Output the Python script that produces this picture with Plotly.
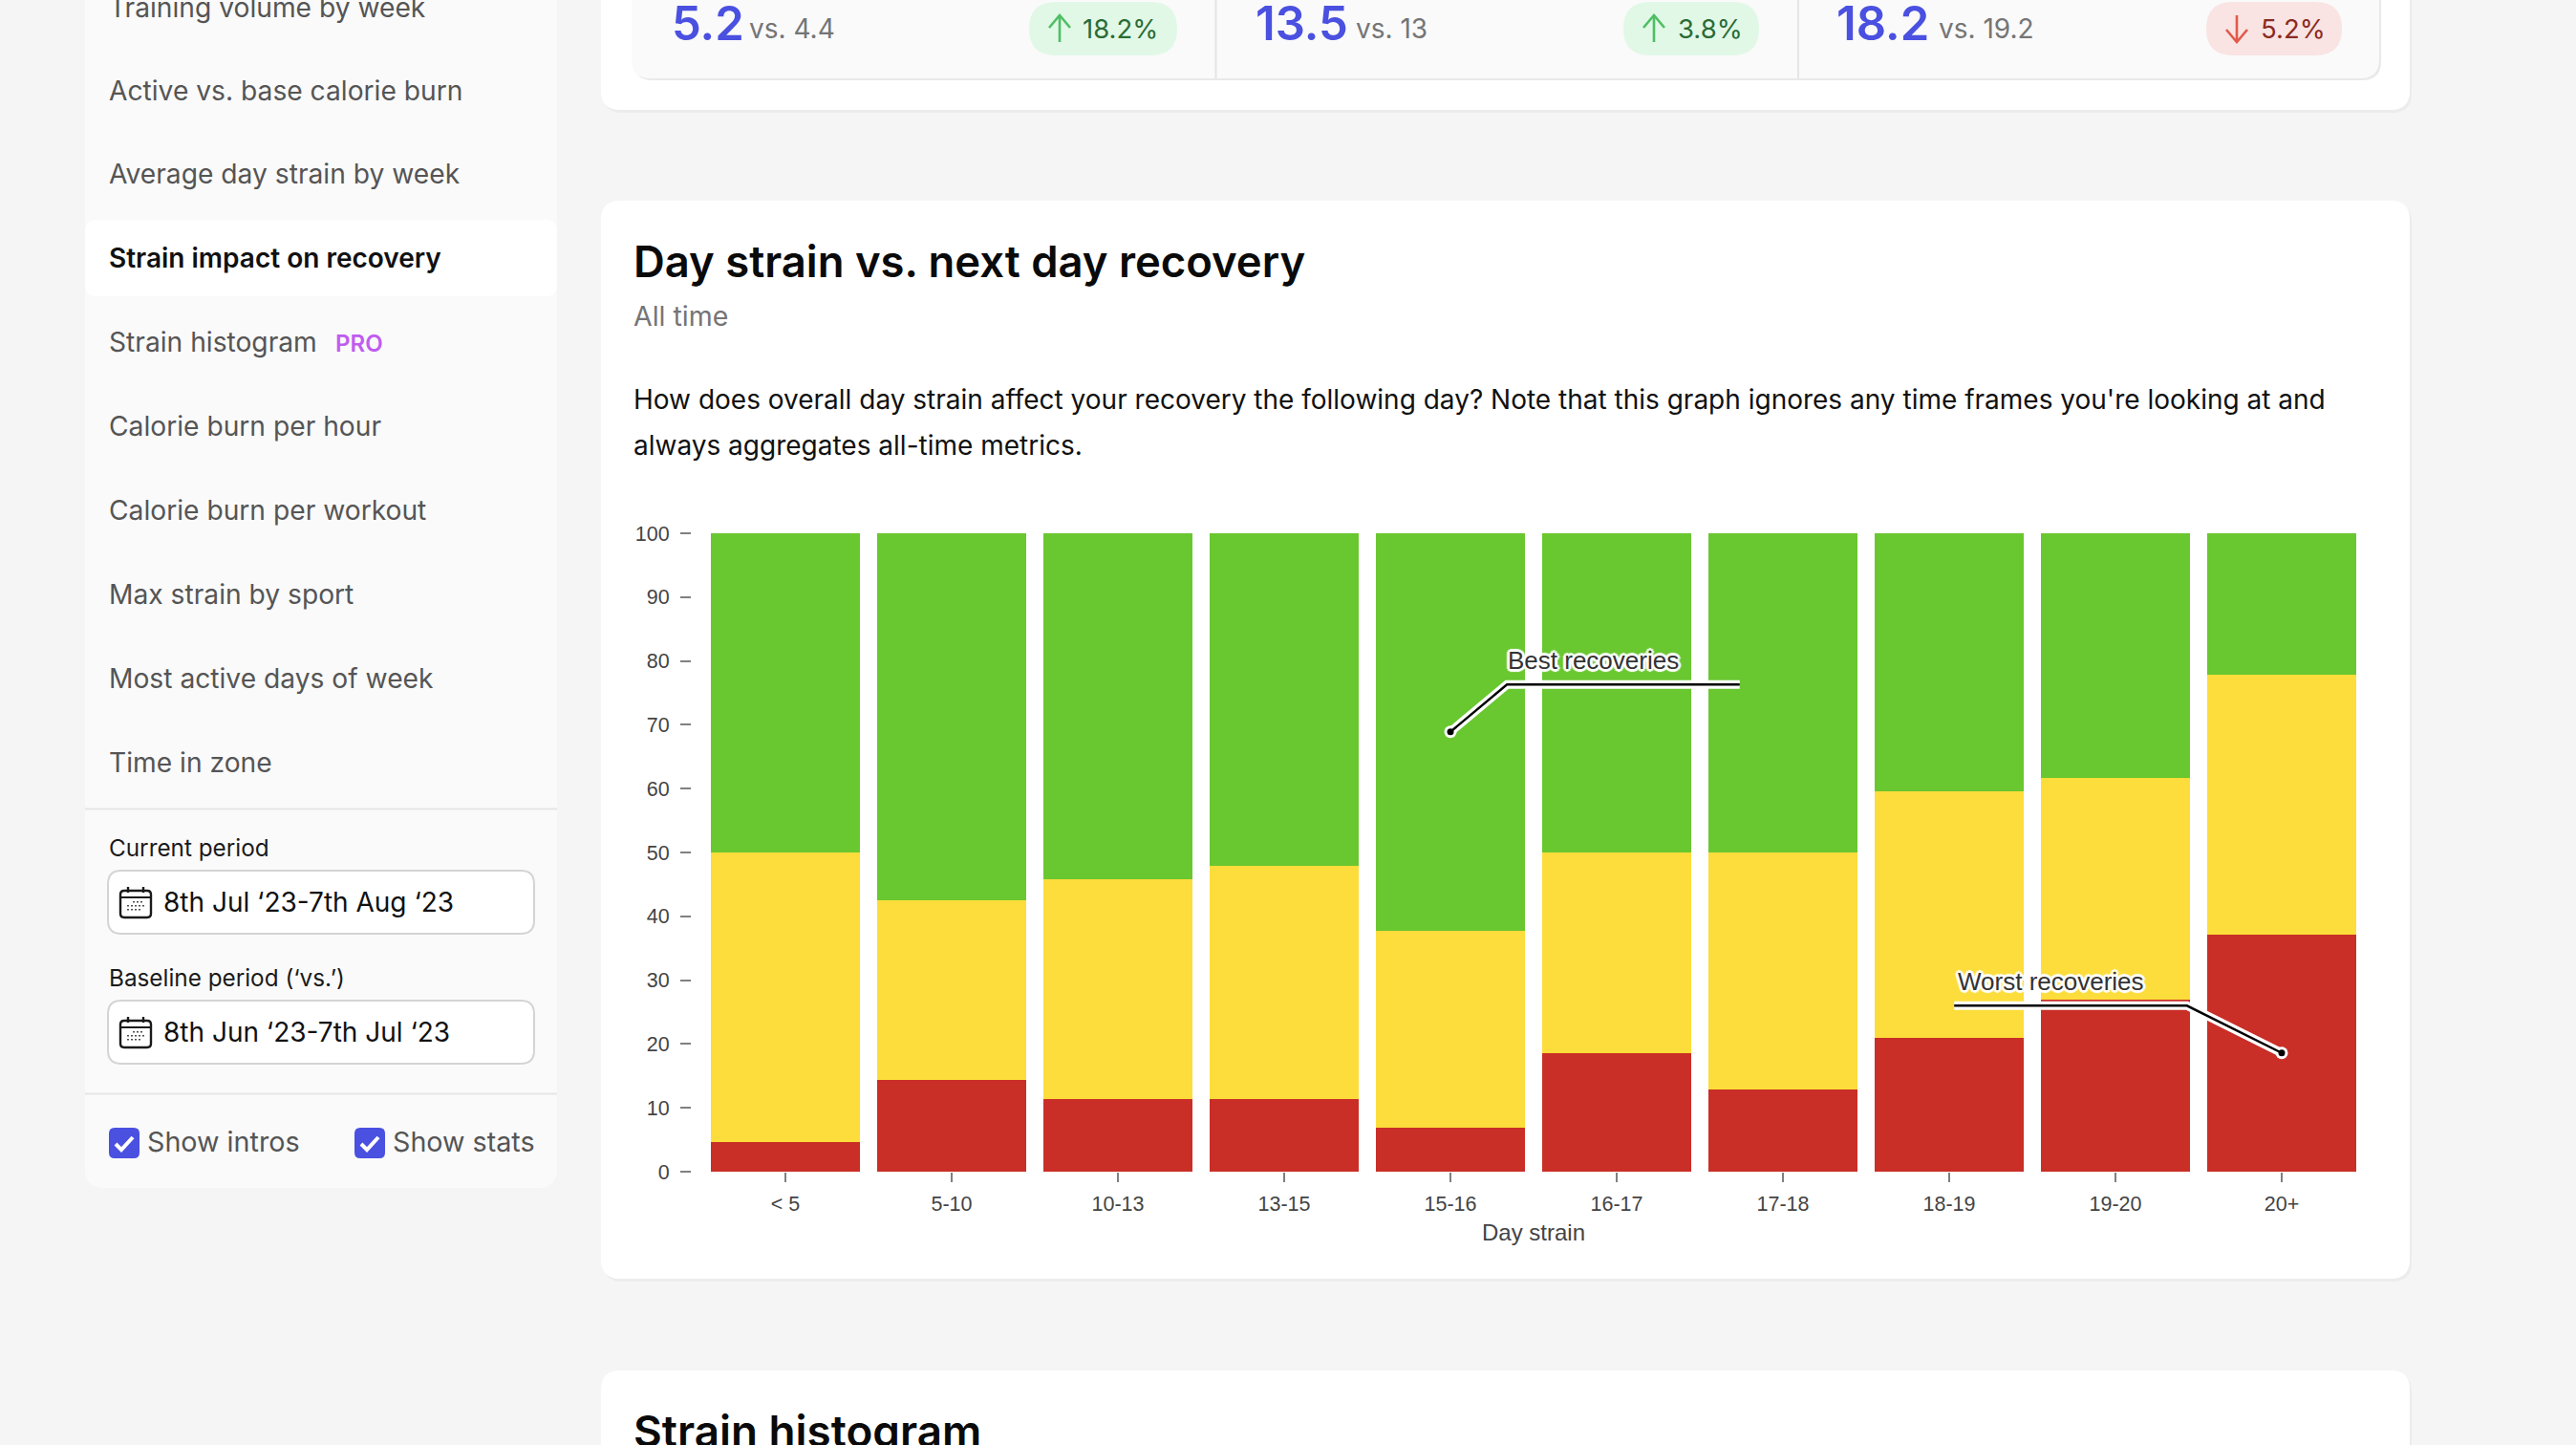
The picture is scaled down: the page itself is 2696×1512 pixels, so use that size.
import plotly.graph_objects as go

W, H = 2696, 1512

# ---- chart data -------------------------------------------------------
strain_bins = ["< 5", "5-10", "10-13", "13-15", "15-16", "16-17", "17-18", "18-19", "19-20", "20+"]
worst_pct = [4.6, 14.4, 11.4, 11.4, 6.9, 18.6, 12.9, 21.0, 26.9, 37.1]
middle_pct = [45.4, 28.1, 34.4, 36.5, 30.8, 31.4, 37.1, 38.6, 34.8, 40.7]
best_pct = [50.0, 57.5, 54.2, 52.1, 62.3, 50.0, 50.0, 40.4, 38.3, 22.2]
y_ticks = [0, 10, 20, 30, 40, 50, 60, 70, 80, 90, 100]

best_callout_x = [4, 4.34, 5.74]
best_callout_y = [68.9, 76.3, 76.3]
worst_callout_x = [9, 8.43, 7.03]
worst_callout_y = [18.6, 26.0, 26.0]

sidebar_items = ["Training volume by week", "Active vs. base calorie burn", "Average day strain by week",
                 "Strain impact on recovery", "Strain histogram", "Calorie burn per hour",
                 "Calorie burn per workout", "Max strain by sport", "Most active days of week", "Time in zone"]

stat_main = ["5.2", "13.5", "18.2"]
stat_vs = ["vs. 4.4", "vs. 13", "vs. 19.2"]
stat_delta = ["18.2%", "3.8%", "5.2%"]

# ---- page helpers ------------------------------------------------------
INTER = "Inter, sans-serif"
HELV = "Liberation Sans, Arial, sans-serif"
BLUE = "#4a50e0"


def px(v):
    return v / W


def py(v):
    return 1 - v / H


shapes, annos = [], []


def rrect(x0, y0, x1, y1, r, fill, line=None, lw=0):
    path = (f"M{px(x0 + r)},{py(y0)} L{px(x1 - r)},{py(y0)} Q{px(x1)},{py(y0)} {px(x1)},{py(y0 + r)} "
            f"L{px(x1)},{py(y1 - r)} Q{px(x1)},{py(y1)} {px(x1 - r)},{py(y1)} "
            f"L{px(x0 + r)},{py(y1)} Q{px(x0)},{py(y1)} {px(x0)},{py(y1 - r)} "
            f"L{px(x0)},{py(y0 + r)} Q{px(x0)},{py(y0)} {px(x0 + r)},{py(y0)} Z")
    shapes.append(dict(type="path", path=path, xref="paper", yref="paper", fillcolor=fill,
                       line=dict(color=line or fill, width=lw), layer="below"))


def hline(x0, x1, y, color="#e5e5e5", w=2):
    shapes.append(dict(type="line", xref="paper", yref="paper", x0=px(x0), x1=px(x1), y0=py(y), y1=py(y),
                       line=dict(color=color, width=w), layer="below"))


def vline(x, y0, y1, color="#e5e5e5", w=2):
    shapes.append(dict(type="line", xref="paper", yref="paper", x0=px(x), x1=px(x), y0=py(y0), y1=py(y1),
                       line=dict(color=color, width=w), layer="below"))


def poly(pts, color, w, fill=None, close=False):
    d = "M" + " L".join(f"{px(a)},{py(b)}" for a, b in pts) + (" Z" if close else "")
    shapes.append(dict(type="path", path=d, xref="paper", yref="paper", fillcolor=fill or "rgba(0,0,0,0)",
                       line=dict(color=color, width=w), layer="below"))


def text(s, x, y, size, color, weight=400, family=INTER, anchor="left", shadow=None):
    f = dict(family=family, size=size, color=color, weight=weight)
    if shadow:
        f["shadow"] = shadow
    annos.append(dict(text=s, x=px(x), y=py(y), xref="paper", yref="paper", xanchor=anchor, yanchor="middle",
                      showarrow=False, font=f, borderpad=0, borderwidth=0, align="left"))


def calendar(x, y):
    rrect(x, y + 4, x + 32, y + 32, 4, "#ffffff", "#1a1a1a", 2.4)
    hline(x, x + 32, y + 11, "#1a1a1a", 2)
    vline(x + 8, y, y + 6, "#1a1a1a", 2.4)
    vline(x + 24, y, y + 6, "#1a1a1a", 2.4)
    for row, xs in enumerate([(14, 18, 22), (8, 12, 16, 20, 24), (8, 12, 16, 20)]):
        for dx in xs:
            rrect(x + dx - 0.8, y + 15 + row * 4, x + dx + 0.8, y + 16.6 + row * 4, 0.3, "#1a1a1a")


def checkbox(x):
    rrect(x, 1180, x + 32, 1212, 6, BLUE)
    poly([(x + 7, 1197), (x + 13, 1203), (x + 25, 1190)], "#ffffff", 4)


# ---- cards -------------------------------------------------------------
rrect(631, -40, 2524, 118, 20, "#ececec")
rrect(629, -40, 2522, 115, 20, "#ffffff")
rrect(663, -40, 2492, 84, 20, "#e9e9e9")
rrect(661, -40, 2490, 82, 20, "#fafafa")
vline(1272.5, 0, 82)
vline(1882, 0, 82)
rrect(631, 213, 2524, 1341, 20, "#ececec")
rrect(629, 210, 2522, 1338, 20, "#ffffff")
rrect(631, 1437, 2524, 1560, 20, "#ececec")
rrect(629, 1434, 2522, 1560, 20, "#ffffff")

# ---- stat strip --------------------------------------------------------
pills = [(1077, 1232, "#e1f8e7"), (1699, 1841, "#e1f8e7"), (2309, 2451, "#f9e3e3")]
for a, b, c in pills:
    rrect(a, 2, b, 58, 28, c)
for ax_, up, c in [(1109, True, "#4fbf63"), (1731, True, "#4fbf63"), (2341, False, "#e05a4b")]:
    tip, tail = (16, 44) if up else (44, 16)
    wing = tip + 13 if up else tip - 13
    poly([(ax_, tail), (ax_, tip)], c, 2.6)
    poly([(ax_ - 11, wing), (ax_, tip), (ax_ + 11, wing)], c, 2.6)
for s, x in zip(stat_main, [703, 1314, 1922]):
    text(s, x, 25, 49, BLUE, 600)
for s, x in zip(stat_vs, [784, 1419, 2029]):
    text(s, x, 30, 28, "#757575")
for s, x, c in zip(stat_delta, [1133, 1756, 2366], ["#2a6b35", "#2a6b35", "#8a2a22"]):
    text(s, x, 30, 27.5, c)

# ---- sidebar -----------------------------------------------------------
rrect(89, -40, 583, 1243, 20, "#fafafa")
rrect(89, 230, 583, 310, 12, "#ffffff")
item_y = [8, 95, 182, 270, 358, 446, 534, 622, 710, 798]
for i, (s, y) in enumerate(zip(sidebar_items, item_y)):
    if i == 3:
        text(s, 114, y, 28, "#111111", 600)
    else:
        text(s, 114, y, 28.2, "#555555", 400)
text("PRO", 351, 359, 24, "#c05cf0", 600)
hline(89, 583, 846.5)
hline(89, 583, 1144.5)
text("Current period", 114, 887, 24.3, "#1a1a1a")
text("Baseline period (‘vs.’)", 114, 1023, 24.3, "#1a1a1a")
for top, s in [(911, "8th Jul ‘23-7th Aug ‘23"), (1047, "8th Jun ‘23-7th Jul ‘23")]:
    rrect(113, top, 559, top + 66, 14, "#ffffff", "#d4d4d4", 2)
    calendar(126, top + 17)
    text(s, 171, top + 33, 28, "#111111")
checkbox(114)
checkbox(371)
text("Show intros", 154, 1194, 28.7, "#555555")
text("Show stats", 411, 1194, 28.7, "#555555")

# ---- chart card text -----------------------------------------------------
text("Day strain vs. next day recovery", 663, 274, 45.4, "#0a0a0a", 600)
text("All time", 663, 330, 28.5, "#757575")
text("How does overall day strain affect your recovery the following day? Note that this graph ignores any time frames you're looking at and",
     663, 418, 28, "#111111")
text("always aggregates all-time metrics.", 663, 466, 28, "#111111")
text("Strain histogram", 663, 1497, 45.8, "#0a0a0a", 600)

# ---- chart -------------------------------------------------------------
halo = ",".join(f"{a}px {b}px 1px #ffffff" for a, b in
                [(3, 0), (-3, 0), (0, 3), (0, -3), (2, 2), (-2, 2), (2, -2), (-2, -2)])
text("Best recoveries", 1578, 691, 26, "#333333", family=HELV, shadow=halo)
text("Worst recoveries", 2048.5, 1027, 26, "#333333", family=HELV, shadow=halo)

idx = list(range(len(strain_bins)))
fig = go.Figure()
for name, vals, color in [("Worst", worst_pct, "#c92f27"), ("Middle", middle_pct, "#fcdd3b"), ("Best", best_pct, "#69c730")]:
    fig.add_bar(x=idx, y=vals, name=name, marker=dict(color=color, line=dict(width=0)), showlegend=False)

for xs, ys in [(best_callout_x, best_callout_y), (worst_callout_x, worst_callout_y)]:
    fig.add_scatter(x=xs, y=ys, mode="lines", line=dict(color="#ffffff", width=9), showlegend=False)
    fig.add_scatter(x=xs[:1], y=ys[:1], mode="markers", marker=dict(color="#ffffff", size=13), showlegend=False)
    fig.add_scatter(x=xs, y=ys, mode="lines", line=dict(color="#000000", width=2.4), showlegend=False)
    fig.add_scatter(x=xs[:1], y=ys[:1], mode="markers", marker=dict(color="#000000", size=7), showlegend=False)

fig.update_layout(
    width=W, height=H, margin=dict(l=0, r=0, t=0, b=0, autoexpand=False), barmode="stack", bargap=0.103,
    paper_bgcolor="#f5f5f5", plot_bgcolor="rgba(0,0,0,0)", shapes=shapes, annotations=annos, hovermode=False,
    xaxis=dict(domain=[px(735), px(2475)], range=[-0.5, 9.5], tickmode="array", tickvals=idx, ticktext=strain_bins,
               ticks="outside", ticklen=10, tickwidth=1.6, tickcolor="#808080", showgrid=False, zeroline=False,
               showline=False, tickfont=dict(family=HELV, size=21.5, color="#444444"), automargin=False,
               ticklabelstandoff=4,
               title=dict(text="Day strain", font=dict(family=HELV, size=24, color="#444444"), standoff=10),
               anchor="y"),
    yaxis=dict(domain=[py(1226), py(558)], range=[0, 100], tickmode="array", tickvals=y_ticks,
               ticks="outside", ticklen=11, tickwidth=1.6, tickcolor="#808080", showgrid=False, zeroline=False,
               showline=False, tickfont=dict(family=HELV, size=21.5, color="#444444"), automargin=False,
               anchor="free", position=px(723), ticklabelstandoff=7),
)
fig.write_html("out.html", config=dict(displayModeBar=False), post_script="document.body.style.margin='0';")
